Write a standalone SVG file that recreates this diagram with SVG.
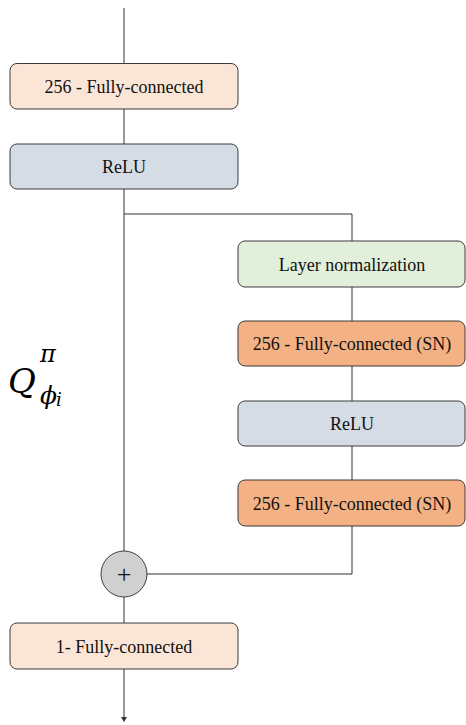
<svg xmlns="http://www.w3.org/2000/svg" width="466" height="725" viewBox="0 0 466 725">
<style>
.box{stroke:#3b3b3b;stroke-width:1}
.t{font-family:"Liberation Serif","Times New Roman",serif;font-size:18px;fill:#111;text-anchor:middle;dominant-baseline:central}
.c{fill:none;stroke:#333;stroke-width:1}
.m{font-family:"DejaVu Serif","Liberation Serif",serif;font-style:italic;fill:#000}
</style>
<defs>
<marker id="ah" markerWidth="8" markerHeight="8" refX="4" refY="4" orient="auto" markerUnits="userSpaceOnUse">
<path d="M0,1 L5,4 L0,7 z" fill="#333"/>
</marker>
</defs>
<g id="connectors">
<line class="c" x1="124" y1="8" x2="124" y2="63"/>
<line class="c" x1="124" y1="109" x2="124" y2="144"/>
<line class="c" x1="124" y1="189" x2="124" y2="551"/>
<polyline class="c" points="124,214 352,214 352,241"/>
<line class="c" x1="352" y1="287" x2="352" y2="321"/>
<line class="c" x1="352" y1="366" x2="352" y2="401"/>
<line class="c" x1="352" y1="446" x2="352" y2="480"/>
<polyline class="c" points="352,526 352,574 147,574"/>
<line class="c" x1="124" y1="597" x2="124" y2="623"/>
<line class="c" x1="124" y1="669" x2="124" y2="721" marker-end="url(#ah)"/>
</g>
<g id="fc1"><rect class="box" x="10" y="63.5" width="228" height="45.5" rx="7" fill="#fbe5d6"/><text class="t" x="124" y="87">256 - Fully-connected</text></g>
<g id="relu1"><rect class="box" x="10" y="144" width="228" height="45" rx="7" fill="#d6dce5"/><text class="t" x="124" y="167">ReLU</text></g>
<g id="ln"><rect class="box" x="238" y="241" width="227" height="46" rx="7" fill="#e2efda"/><text class="t" x="352" y="265">Layer normalization</text></g>
<g id="fcsn1"><rect class="box" x="238" y="321" width="227" height="45" rx="7" fill="#f4b183"/><text class="t" x="352" y="344">256 - Fully-connected (SN)</text></g>
<g id="relu2"><rect class="box" x="238" y="401" width="227" height="45" rx="7" fill="#d6dce5"/><text class="t" x="352" y="424">ReLU</text></g>
<g id="fcsn2"><rect class="box" x="238" y="480" width="227" height="46" rx="7" fill="#f4b183"/><text class="t" x="352" y="504">256 - Fully-connected (SN)</text></g>
<g id="add"><circle class="box" cx="124" cy="574" r="23" fill="#d0d0d0"/><text class="t" x="124" y="574" style="font-size:26px">+</text></g>
<g id="fc2"><rect class="box" x="10" y="623" width="228" height="46" rx="7" fill="#fbe5d6"/><text class="t" x="124" y="647">1- Fully-connected</text></g>
<g id="label">
<text class="m" x="8" y="393" font-size="34">Q</text>
<text class="m" x="40" y="362" font-size="24">π</text>
<text class="m" x="40" y="404" font-size="25">ϕ</text>
<text class="m" x="56" y="406" font-size="18">i</text>
</g>
</svg>
